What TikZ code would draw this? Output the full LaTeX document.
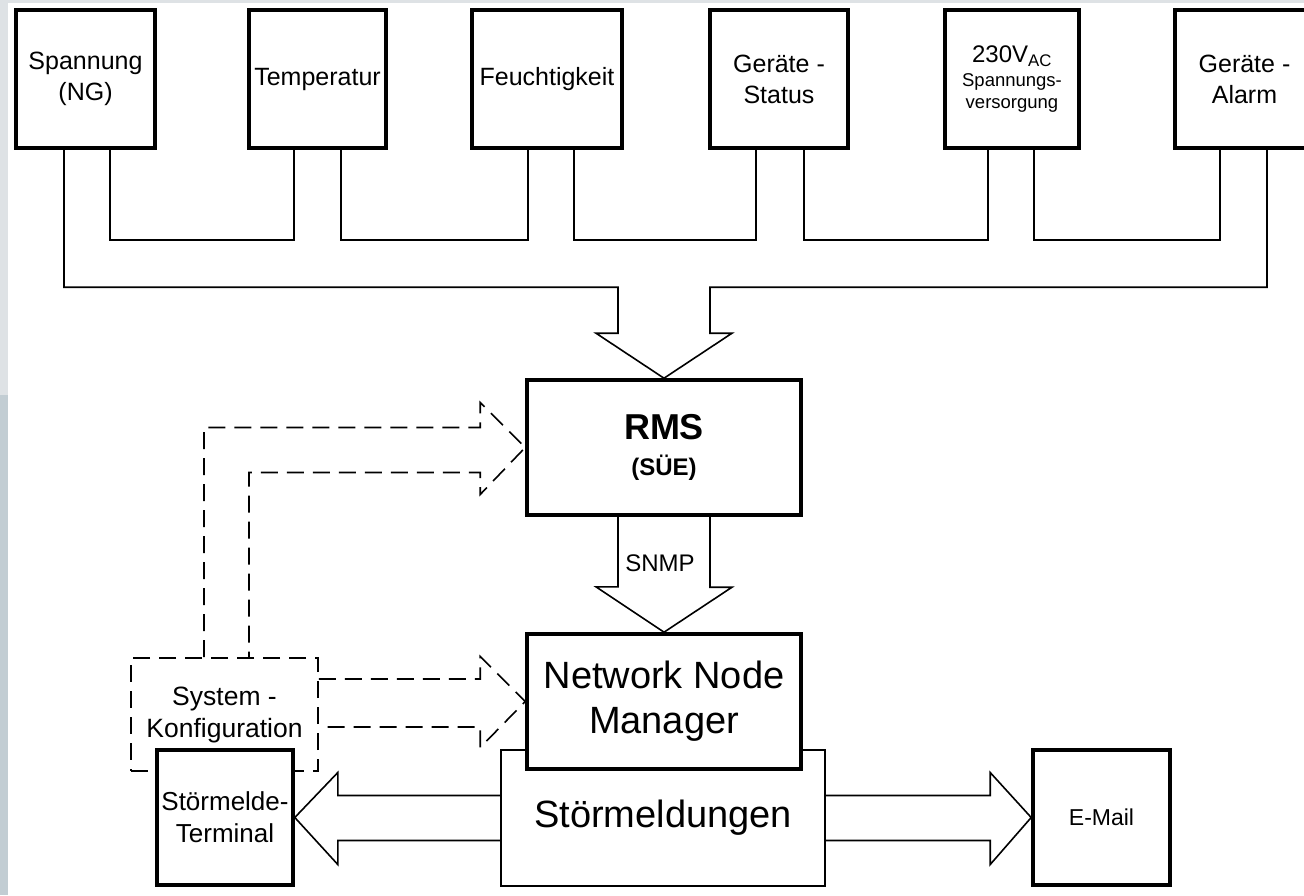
\documentclass[tikz,border=0pt]{standalone}
\usepackage{fontspec}
\setmainfont{Liberation Sans}
\usepackage{tikz}
\usetikzlibrary{calc}
\definecolor{stripgray}{RGB}{222,226,229}
\definecolor{stripblue}{RGB}{194,205,211}

\begin{document}
\begin{tikzpicture}[
  x=1pt, y=-1pt,
  font=\fontsize{25}{31}\selectfont,
  sensor/.style={draw, line width=3.6pt, minimum height=138pt, align=center, fill=white, inner sep=0pt},
  unit/.style={draw, line width=3.6pt, minimum width=274pt, minimum height=135pt, align=center, fill=white},
  endbox/.style={draw, line width=3.6pt, minimum height=135pt, align=center, fill=white, inner sep=0pt},
  bus/.style={line width=1.6pt},
  cfg/.style={line width=1.6pt, dash pattern=on 17pt off 9pt},
]
\fill[white] (0,0) rectangle (1304,895);
\useasboundingbox (0,0) rectangle (1304,895);
\fill[stripgray] (0,0) rectangle (8,395);
\fill[stripblue] (0,395) rectangle (8,895);
\fill[stripgray] (0,0) rectangle (1304,3);

\node[sensor, minimum width=139pt] (span) at (85.5,79) {Spannung\\(NG)};
\node[sensor, minimum width=137pt] (temp) at (317.5,79) {Temperatur};
\node[sensor, minimum width=150pt] (feucht) at (547,79) {Feuchtigkeit};
\node[sensor, minimum width=138pt] (status) at (779,79) {Geräte -\\Status};
\node[sensor, minimum width=134pt] (versorg) at (1012,79)
  {{\fontsize{24}{26}\selectfont 230V\textsubscript{AC}}\\[-7pt]{\fontsize{18.5}{21}\selectfont Spannungs-}\\[-9pt]{\fontsize{18.5}{21}\selectfont versorgung}};
\node[sensor, minimum width=139pt] (alarm) at (1244.5,79) {Geräte -\\Alarm};

\node[draw, cfg, minimum width=187pt, minimum height=113pt, align=center, font=\fontsize{26.5}{32}\selectfont] (sys) at (224.5,714.5) {System -\\Konfiguration};
\node[endbox, minimum width=136pt, font=\fontsize{26}{32}\selectfont] (term) at (225,817.5) {Störmelde-\\Terminal};
\node[draw, line width=1.6pt, minimum width=324pt, minimum height=136pt, fill=white, font=\fontsize{38}{45}\selectfont] (stoer) at (663,818) {Störmeldungen};
\node[unit, font=\fontsize{38}{45}\selectfont] (nnm) at (664,701.5) {Network Node\\Manager};
\node[unit] (rms) at (664,447.5)
  {{\fontsize{36}{40}\selectfont\bfseries RMS}\\[5pt]{\fontsize{24}{28}\selectfont\bfseries (SÜE)}};
\node[endbox, minimum width=137pt, font=\fontsize{23}{28}\selectfont] (mail) at (1101.5,817.5) {E-Mail};

\draw[bus] ([xshift=24.5pt]span.south) -- ++(0,90) -| ([xshift=-23.5pt]temp.south);
\draw[bus] ([xshift=23.5pt]temp.south) -- ++(0,90) -| ([xshift=-19pt]feucht.south);
\draw[bus] ([xshift=27pt]feucht.south) -- ++(0,90) -| ([xshift=-23pt]status.south);
\draw[bus] ([xshift=25pt]status.south) -- ++(0,90) -| ([xshift=-24pt]versorg.south);
\draw[bus] ([xshift=22pt]versorg.south) -- ++(0,90) -| ([xshift=-24.5pt]alarm.south);
\draw[bus] ([xshift=-21.5pt]span.south) |- ([xshift=-46pt,yshift=91pt]rms.north)
  -- ++(0,46) -- ++(-22,0) -- (rms.north) -- ++(68,-45) -- ++(-22,0) -- ++(0,-46)
  -| ([xshift=22.5pt]alarm.south);

\draw[bus] ([xshift=-46pt]rms.south) -- ++(0,70) -- ++(-22,0) -- (nnm.north)
  -- ++(68,-45) -- ++(-22,0) -- ([xshift=46pt]rms.south);
\node[font=\fontsize{24}{28}\selectfont] (snmp) at (660,563) {SNMP};

\draw[bus] ([yshift=22.5pt]stoer.west) -| ($(term.east)+(43,-45)$) -- (term.east)
  -- ($(term.east)+(43,47)$) |- ([yshift=-22.5pt]stoer.west);
\draw[bus] ([yshift=22.5pt]stoer.east) -| ($(mail.west)+(-41,-45)$) -- (mail.west)
  -- ($(mail.west)+(-41,47)$) |- ([yshift=-22.5pt]stoer.east);

\draw[cfg] ([xshift=-20.5pt]sys.north) |- ($(rms.west)+(-45,-20)$) -- ++(0,-25) -- (rms.west)
  -- ($(rms.west)+(-45,47)$) -- ++(0,-22) -| ([xshift=24.5pt]sys.north);
\draw[cfg] ([yshift=35.5pt]sys.east) -| ($(nnm.west)+(-45,-45)$) -- (nnm.west)
  -- ($(nnm.west)+(-45,46)$) |- ([yshift=-12.5pt]sys.east);
\end{tikzpicture}
\end{document}
